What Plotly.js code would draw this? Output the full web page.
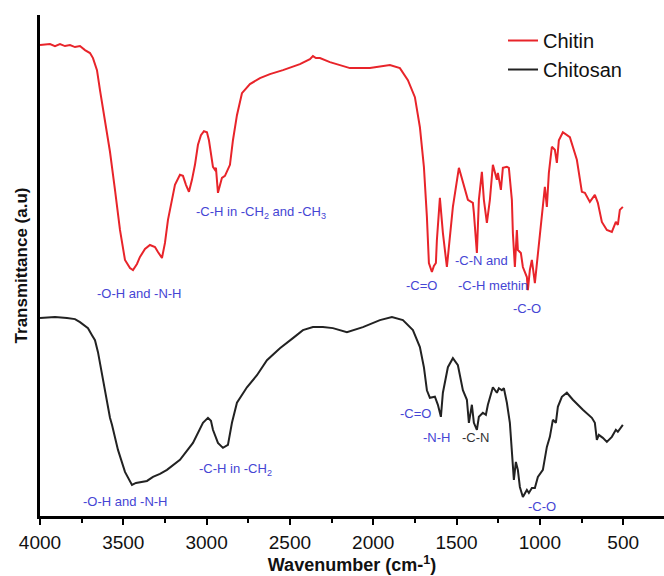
<!DOCTYPE html>
<html>
<head>
<meta charset="utf-8">
<script src="https://cdn.plot.ly/plotly-3.0.1.min.js"></script>
<style>html,body{margin:0;padding:0;background:#fff;}#chart{width:664px;height:576px;}</style>
</head>
<body>
<div id="chart"></div>
<script>
// Wavenumber (cm-1) and transmittance (a.u.)
const chitinX = [4000,3940,3910,3880,3850,3820,3790,3760,3730,3700,3682,3658,3640,3610,3580,3550,3520,3490,3460,3442,3418,3400,3370,3340,3310,3292,3268,3250,3232,3208,3190,3160,3142,3124,3106,3088,3070,3052,3034,3016,2998,2986,2974,2962,2950,2944,2932,2920,2908,2890,2872,2860,2842,2818,2788,2740,2680,2620,2542,2440,2380,2362,2344,2320,2260,2140,2020,1900,1840,1792,1750,1720,1696,1678,1666,1648,1636,1624,1618,1600,1582,1558,1546,1522,1486,1462,1432,1402,1396,1378,1366,1348,1336,1318,1300,1282,1258,1252,1234,1222,1198,1186,1168,1162,1150,1138,1132,1114,1102,1078,1072,1060,1048,1030,1018,1000,982,970,958,946,928,910,898,886,862,820,778,748,730,700,670,652,628,598,568,544,532,520,502];
const chitinY = [94.0,94.2,93.8,94.2,93.8,94.0,93.6,93.8,93.0,92.4,91.4,89.0,85.0,79.0,72.7,65.1,57.1,51.1,49.5,49.1,50.3,51.7,53.3,54.1,53.7,52.7,51.5,54.5,59.1,63.1,66.1,68.1,67.9,66.1,64.7,67.1,70.1,74.1,76.0,76.8,76.6,75.0,72.7,69.7,69.1,69.5,64.5,66.1,67.5,67.9,69.1,70.1,75.0,80.0,84.4,86.2,87.4,88.2,89.0,90.2,91.2,91.8,91.4,91.4,90.6,89.4,89.4,90.0,89.4,87.0,83.6,77.6,69.7,59.7,50.5,48.7,49.9,50.5,55.1,63.5,56.5,49.7,53.7,61.7,69.5,66.5,63.1,62.5,60.5,52.5,63.1,68.7,63.1,58.5,63.1,70.1,67.1,68.5,65.1,69.5,69.7,69.5,63.1,56.5,49.7,57.1,53.1,52.5,49.7,47.7,45.1,49.1,51.1,46.5,50.5,56.5,63.1,65.7,61.7,68.5,73.7,73.1,70.5,75.0,76.6,75.6,71.1,64.7,64.5,62.7,64.1,62.5,58.7,57.1,56.7,58.7,58.1,61.1,61.7];

const chitosanX = [4000,3910,3838,3790,3760,3730,3712,3688,3670,3652,3640,3610,3580,3568,3532,3490,3460,3448,3424,3400,3358,3322,3280,3238,3160,3082,3022,2992,2974,2962,2932,2902,2872,2848,2818,2758,2698,2638,2560,2482,2422,2362,2302,2242,2158,2062,1960,1888,1822,1762,1720,1696,1678,1660,1630,1612,1594,1582,1552,1522,1492,1462,1438,1426,1408,1396,1378,1366,1342,1324,1312,1282,1258,1246,1228,1216,1198,1180,1162,1156,1144,1132,1120,1102,1078,1066,1048,1030,1012,982,958,940,922,904,892,868,838,802,742,688,670,658,646,622,598,568,544,532,502];
const chitosanY = [39.5,39.7,39.5,39.3,38.7,37.9,37.5,36.1,35.1,32.7,30.5,24.6,19.6,18.2,13.2,8.8,6.8,6.2,6.6,6.8,7.0,7.8,8.4,9.2,11.2,14.6,18.6,19.6,19.0,17.2,14.6,13.6,14.2,18.6,22.6,25.7,28.1,31.1,33.5,35.5,37.1,37.7,37.7,37.5,36.7,37.7,39.1,39.7,39.1,37.1,33.7,29.7,25.1,23.6,23.8,22.2,19.8,24.6,29.7,31.5,30.1,25.1,23.2,18.6,22.2,18.6,17.2,19.8,20.6,20.2,22.2,25.7,24.6,25.5,25.1,25.5,22.6,18.6,10.6,7.2,10.8,9.2,5.8,3.8,5.2,4.6,5.6,5.6,7.8,9.2,13.8,15.8,19.2,18.6,21.8,23.8,24.6,23.2,21.2,19.6,18.6,15.2,16.2,15.6,14.8,15.8,17.2,16.8,18.2];

const seriesNames = ["Chitin", "Chitosan"];
const tickVals = [4000,3500,3000,2500,2000,1500,1000,500];

// Band labels: [text, wavenumber, transmittance, anchor, colour key]
const bandLabels = [
  ["-O-H and -N-H", 3400, 44.5, "center", "b"],
  ["-C-H in -CH<sub>2</sub> and -CH<sub>3</sub>", 3075, 60.5, "left", "b"],
  ["-C=O", 1708, 46.1, "center", "b"],
  ["-C-N and", 1522, 50.9, "left", "b"],
  ["-C-H methin", 1504, 46.1, "left", "b"],
  ["-C-O", 1078, 41.5, "center", "b"],
  ["-O-H and -N-H", 3484, 2.8, "center", "b"],
  ["-C-H in -CH<sub>2</sub>", 3055, 9.2, "left", "b"],
  ["-C=O", 1744, 20.4, "center", "b"],
  ["-N-H", 1618, 15.6, "center", "b"],
  ["-C-N", 1385, 15.6, "center", "k"],
  ["-C-O", 988, 1.8, "center", "b"]
];

const FONT = "Liberation Sans, Arial, Helvetica, sans-serif";
const colours = {b: "#4545d4", k: "#333333"};

const traces = [
  {x: chitinX, y: chitinY, name: seriesNames[0], type: "scatter", mode: "lines",
   line: {color: "#e8242a", width: 2}},
  {x: chitosanX, y: chitosanY, name: seriesNames[1], type: "scatter", mode: "lines",
   line: {color: "#222222", width: 2}}
];

const annotations = bandLabels.map(b => ({
  text: b[0], x: b[1], y: b[2], xref: "x", yref: "y",
  xanchor: b[3], yanchor: "middle", showarrow: false,
  font: {family: FONT, size: 13, color: colours[b[4]]}
}));

const layout = {
  width: 664, height: 576,
  margin: {l: 40, r: 0, t: 15, b: 60},
  paper_bgcolor: "#ffffff", plot_bgcolor: "#ffffff",
  showlegend: true,
  legend: {x: 0.742, y: 0.988, xanchor: "left", yanchor: "top",
    bgcolor: "rgba(0,0,0,0)", borderwidth: 0, tracegroupgap: 0,
    font: {family: FONT, size: 20, color: "#111111"}},
  xaxis: {
    range: [4000, 255], autorange: false,
    tickmode: "array", tickvals: tickVals, ticktext: tickVals.map(String),
    ticks: "outside", ticklen: 6, tickwidth: 2, tickcolor: "#000",
    minor: {dtick: 250, ticks: "outside", ticklen: 4, tickwidth: 2, tickcolor: "#000", showgrid: false},
    showline: true, linecolor: "#000", linewidth: 3,
    showgrid: false, zeroline: false,
    ticklabelstandoff: 1,
    tickfont: {family: FONT, size: 19, color: "#111"},
    title: {text: "Wavenumber (cm-<sup>1</sup>)", standoff: 5,
      font: {family: FONT, size: 18, color: "#111", weight: "bold"}}
  },
  yaxis: {
    range: [0, 100], autorange: false,
    showticklabels: false, ticks: "",
    showline: true, linecolor: "#000", linewidth: 3,
    showgrid: false, zeroline: false,
    title: {text: "Transmittance (a.u)", standoff: 6,
      font: {family: FONT, size: 17, color: "#111", weight: "bold"}}
  },
  annotations: annotations
};

Plotly.newPlot("chart", traces, layout, {displayModeBar: false, staticPlot: true});
</script>
</body>
</html>
